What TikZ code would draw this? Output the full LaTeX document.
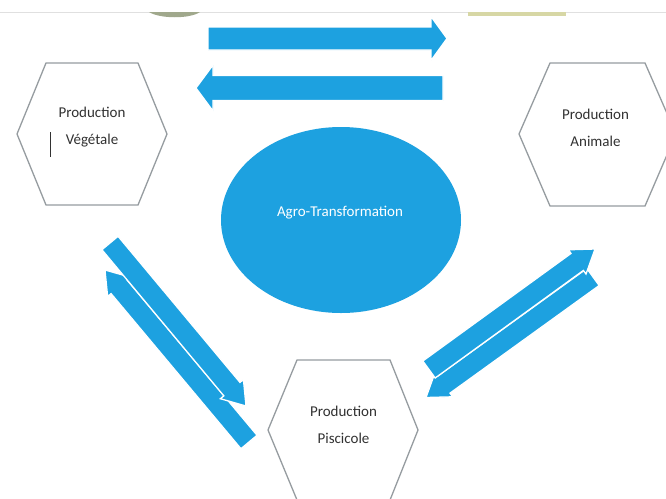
\documentclass[tikz,border=0pt]{standalone}
\usepackage{fontspec}
\setmainfont{Carlito}
\usetikzlibrary{calc,shapes.geometric}
\definecolor{arrblue}{RGB}{29,161,224}
\definecolor{hexgray}{RGB}{150,156,160}
\definecolor{txtgray}{RGB}{50,50,50}
\definecolor{olivegray}{RGB}{160,168,140}
\definecolor{khaki}{RGB}{215,215,165}
\tikzset{
  blockarrow/.style={fill=arrblue, draw=white, line width=1.3pt, line join=miter},
  hexshape/.style={draw=hexgray, line width=1.3pt, fill=white},
  hexlabel/.style={text=txtgray, font=\fontsize{15}{27}\selectfont, align=center, inner sep=0pt},
  ovallabel/.style={text=white, font=\fontsize{15}{18}\selectfont, inner sep=0pt},
  oval/.style={ellipse, fill=arrblue, draw=none, minimum width=240pt, minimum height=186pt, inner sep=0pt}
}
% #1 tail, #2 tip, #3 half body, #4 half head, #5 head length
\newcommand{\blockarr}[5]{%
  \coordinate (#1#2hb) at ($(#2)!#5!(#1)$);
  \path[blockarrow] ($(#1)!#3!90:(#2)$) -- ($(#1#2hb)!#3!90:(#2)$) -- ($(#1#2hb)!#4!90:(#2)$)
    -- (#2) -- ($(#1#2hb)!#4!-90:(#2)$) -- ($(#1#2hb)!#3!-90:(#2)$) -- ($(#1)!#3!-90:(#2)$) -- cycle;
}
\begin{document}
\begin{tikzpicture}[x=1pt,y=-1pt]
\useasboundingbox (0,0) rectangle (666,498);
\clip (0,0) rectangle (666,498);
\fill[white] (0,0) rectangle (666,498);
% remnants of a cropped header
\draw[black!12, line width=0.8pt] (0,12) -- (666,12);
\fill[olivegray] (149,12) .. controls (160,19) and (190,19) .. (200,12) -- cycle;
\fill[khaki] (468,12) rectangle (566,16);
% hexagons
\draw[hexshape] (46,63) -- (138,63) -- (167,134) -- (138,205) -- (46,205) -- (17,134) -- cycle;
\draw[hexshape] (550,63) -- (645,63) -- (676,134) -- (645,206) -- (550,206) -- (519,134) -- cycle;
\draw[hexshape] (297,360) -- (390,360) -- (418,430) -- (390,500) -- (297,500) -- (268,430) -- cycle;
\node[hexlabel] (veg) at (92,127.5) {Production\\Végétale};
\node[hexlabel] (ani) at (595.5,127.5) {Production\\Animale};
\node[hexlabel] (pis) at (343.5,424.5) {Production\\Piscicole};
\draw[txtgray, line width=0.8pt] (50,132) -- (50,157);
% central oval
\node[oval] (agro) at (341,220) {};
\node[ovallabel] (agrotext) at (340,213) {Agro-Transformation};
% arrow end points
\coordinate (ta) at (208,38.5);  \coordinate (tb) at (447,38.5);
\coordinate (ba) at (443,88);    \coordinate (bb) at (196,88);
\coordinate (la) at (249,442);   \coordinate (lb) at (105,270);
\coordinate (ma) at (110,243);   \coordinate (mb) at (246,406);
\coordinate (ra) at (429,369.5); \coordinate (rb) at (595,249);
\coordinate (sa) at (593,277);   \coordinate (sb) at (426,397.5);
\blockarr{ta}{tb}{11.5pt}{22pt}{16pt}
\blockarr{ba}{bb}{12.5pt}{23pt}{17pt}
\blockarr{la}{lb}{10.5pt}{15pt}{22pt}
\blockarr{ma}{mb}{10.5pt}{15pt}{22pt}
\blockarr{sa}{sb}{10.5pt}{15pt}{22pt}
\blockarr{ra}{rb}{10.5pt}{15pt}{22pt}
\end{tikzpicture}
\end{document}
